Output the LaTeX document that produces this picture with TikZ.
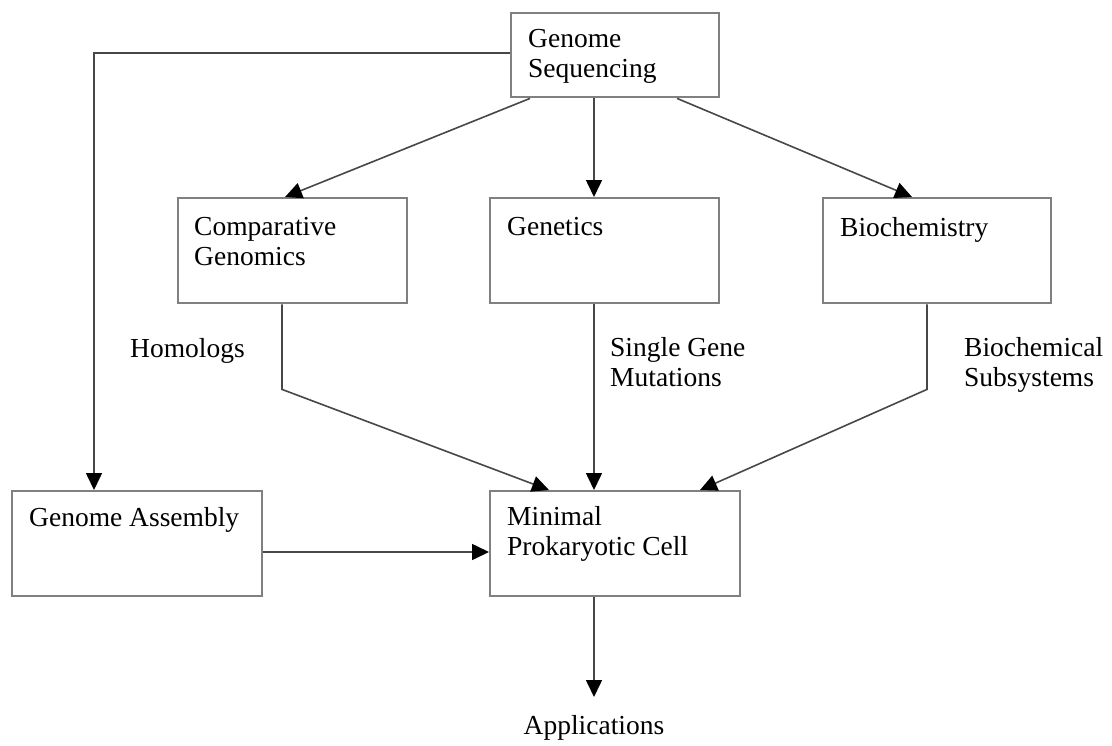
\documentclass[tikz,border=0pt]{standalone}
\usepackage{fontspec}
\setmainfont{Liberation Serif}
\usetikzlibrary{arrows.meta}

\begin{document}
\begin{tikzpicture}[x=1pt,y=-1pt,
  every node/.style={font=\fontsize{27.5}{30}\selectfont},
  box/.style={draw=black!50,line width=2.4pt,anchor=north west,inner sep=0pt},
  txt/.style={anchor=north west,inner sep=0pt,align=left},
  arr/.style={draw=black!72,line width=1.6pt,-{Triangle[length=17pt,width=16pt,color=black]}}]
\useasboundingbox (0,0) rectangle (1112,745);
% boxes
\node[box,minimum width=208pt,minimum height=84pt] (seq) at (510,12) {};
\node[box,minimum width=229pt,minimum height=105pt] (comp) at (177,197) {};
\node[box,minimum width=229pt,minimum height=105pt] (gen) at (489,197) {};
\node[box,minimum width=228pt,minimum height=105pt] (bio) at (822,197) {};
\node[box,minimum width=250pt,minimum height=105pt] (asm) at (11,490) {};
\node[box,minimum width=250pt,minimum height=105pt] (mini) at (489,490) {};
% box texts
\node[txt] (seqtxt) at ([shift={(18,17)}]seq.north west) {Genome\\Sequencing};
\node[txt] (comptxt) at ([shift={(17,20)}]comp.north west) {Comparative\\Genomics};
\node[txt] (gentxt) at ([shift={(18,20)}]gen.north west) {Genetics};
\node[txt] (biotxt) at ([shift={(18,20)}]bio.north west) {Biochemistry};
\node[txt] (asmtxt) at ([shift={(18,17)}]asm.north west) {Genome Assembly};
\node[txt] (minitxt) at ([shift={(18,16)}]mini.north west) {Minimal\\Prokaryotic Cell};
% free labels
\node[txt,anchor=base west] (homol) at (130,357) {Homologs};
\node[txt] (sgm) at (610,337) {Single Gene\\Mutations};
\node[txt] (bsub) at (964,337) {Biochemical\\Subsystems};
\node[inner sep=0pt,anchor=north] (app) at (594,715) {Applications};
% connectors
\draw[arr] ([shift={(0,41)}]seq.north west) -| ([shift={(83,0)}]asm.north west);
\draw[arr] ([shift={(20,0)}]seq.south west) -- ([shift={(108,0)}]comp.north west);
\draw[arr] ([shift={(84,0)}]seq.south west) -- ([shift={(105,0)}]gen.north west);
\draw[arr] ([shift={(167,0)}]seq.south west) -- ([shift={(90,0)}]bio.north west);
\draw[arr] ([shift={(105,0)}]comp.south west) -- ++(0,85) -- ([shift={(60,0)}]mini.north west);
\draw[arr] ([shift={(105,0)}]gen.south west) -- ([shift={(105,0)}]mini.north west);
\draw[arr] ([shift={(105,0)}]bio.south west) -- ++(0,85) -- ([shift={(211,0)}]mini.north west);
\draw[arr] ([shift={(0,62)}]asm.north east) -- ([shift={(0,62)}]mini.north west);
\draw[arr] ([shift={(105,0)}]mini.south west) -- ([shift={(0,-18)}]app.north);
\end{tikzpicture}
\end{document}
